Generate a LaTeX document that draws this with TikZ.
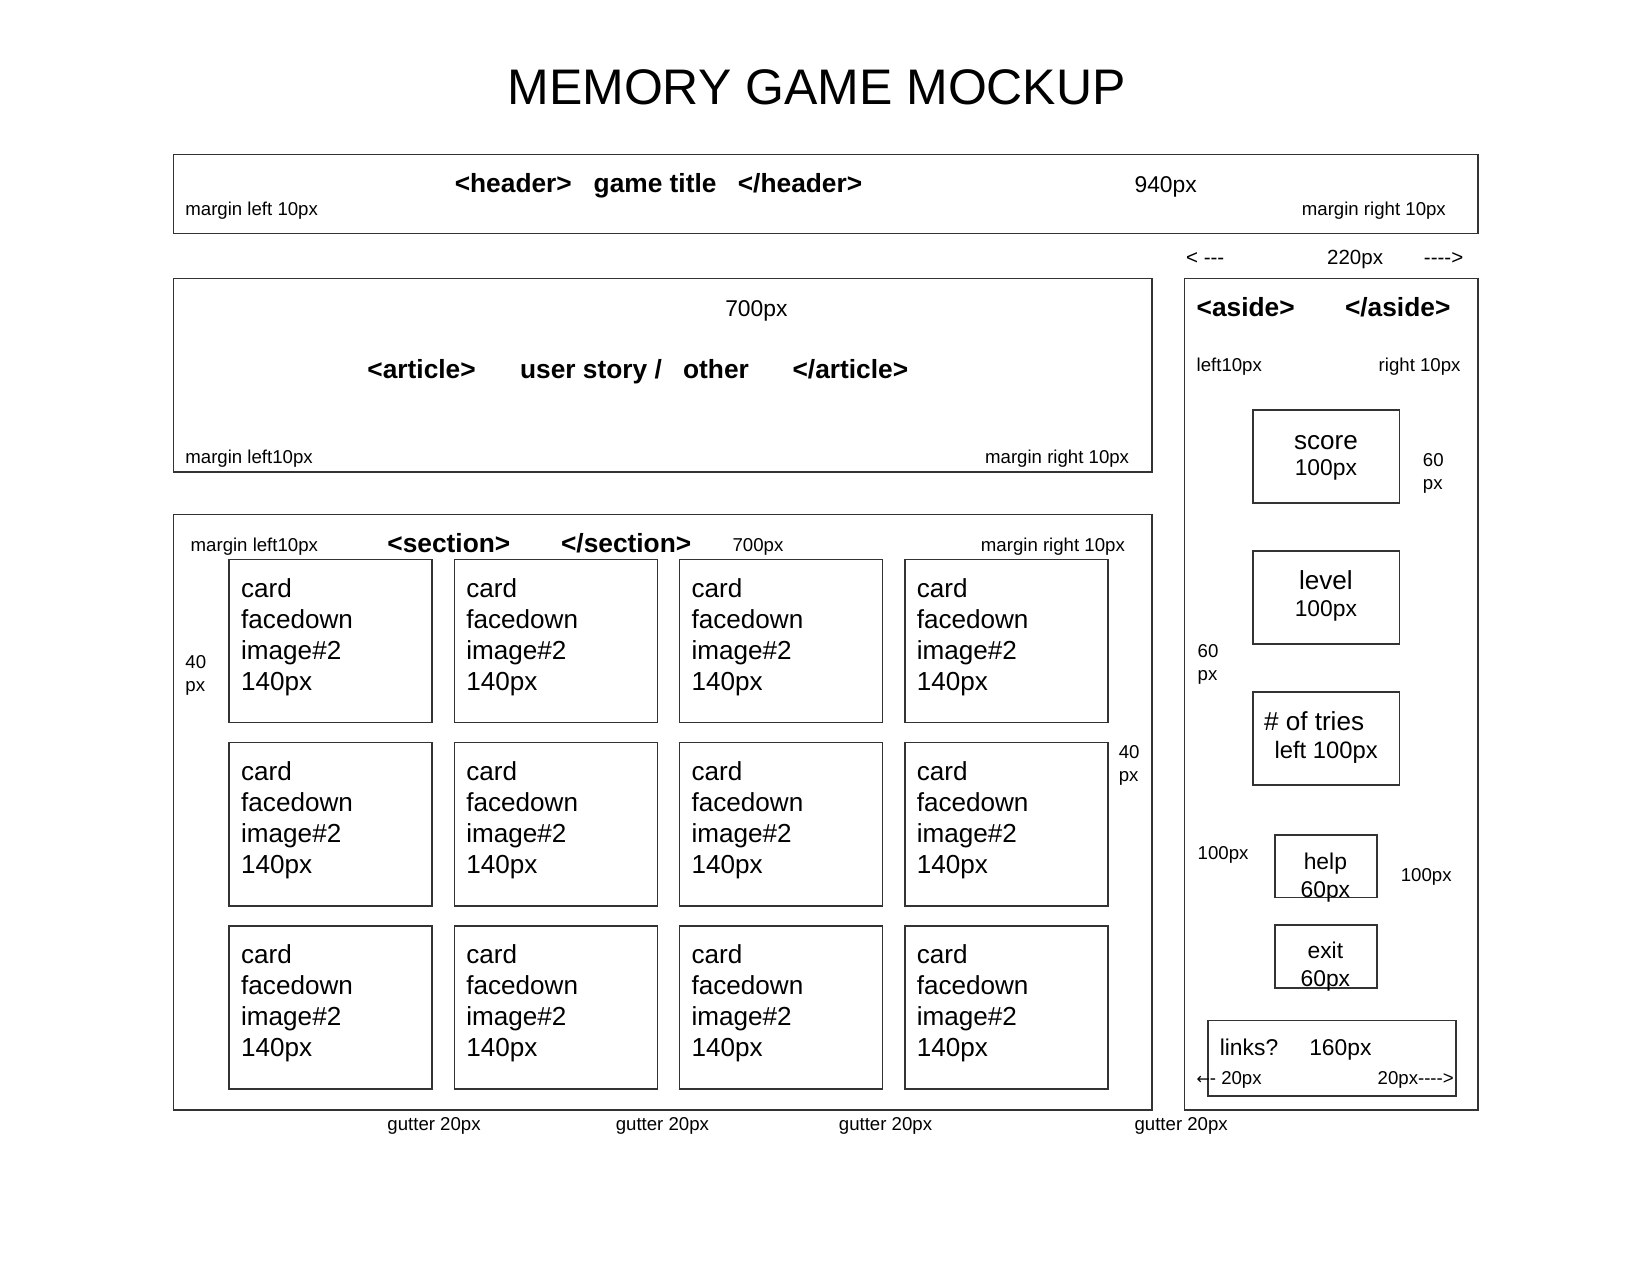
\documentclass[tikz,border=0pt]{standalone}
\usepackage{fontspec}
\setmainfont{Liberation Sans}
\newfontfamily\arrowfont{DejaVu Sans}
\newcommand\mybox[5]{\node[box, minimum width={(#4-#2)*1pt}, minimum height={(#5-#3)*1pt}] (#1) at (#2,#3) {};}
\tikzset{
  box/.style={draw=black!80, line width=1.5pt, inner sep=0pt, anchor=north west},
  small/.style={inner sep=0pt, anchor=base west, font=\fontsize{17.7}{21}\selectfont},
  mid/.style={inner sep=0pt, anchor=base west, font=\fontsize{21.7}{26}\selectfont},
  bld/.style={inner sep=0pt, anchor=base west, font=\fontsize{25}{30}\selectfont\bfseries},
  ctxt/.style={inner sep=0pt, anchor=base west, font=\fontsize{24.8}{29}\selectfont},
  ctr/.style={anchor=base},
}
\begin{document}
\begin{tikzpicture}[x=1pt,y=-1pt]
\fill[white] (0,0) rectangle (1568,1211.4);
\useasboundingbox (0,0) rectangle (1568,1211.4);

% title
\node[inner sep=0pt, anchor=base, font=\fontsize{47.5}{56}\selectfont] (title) at (776,99) {MEMORY GAME MOCKUP};

% header
\mybox{header}{164}{146}{1404}{221}
\node[bld] (h1) at (432,183) {<header>};
\node[bld] (h2) at (564,183) {game title};
\node[bld] (h3) at (701,183) {</header>};
\node[mid] (h4) at (1078,183) {940px};
\node[small] (h5) at (176,205) {margin left 10px};
\node[small] (h6) at (1237,205) {margin right 10px};

% aside width
\node[small, font=\fontsize{19.5}{23}\selectfont] (w1) at (1127,251) {< -{}-{}-};
\node[small, font=\fontsize{19.5}{23}\selectfont] (w2) at (1261,251) {220px};
\node[small, font=\fontsize{19.5}{23}\selectfont] (w3) at (1353,251) {-{}-{}-{}->};

% article
\mybox{article}{164}{264}{1094}{448}
\node[mid] (a0) at (689,301) {700px};
\node[bld] (a1) at (349,360) {<article>};
\node[bld] (a2) at (494,360) {user story /};
\node[bld] (a3) at (649,360) {other};
\node[bld] (a4) at (753,360) {</article>};
\node[small] (a5) at (176,440) {margin left10px};
\node[small] (a6) at (936,440) {margin right 10px};

% section
\mybox{section}{164}{488}{1094}{1054}
\node[small] (s1) at (181,524) {margin left10px};
\node[bld] (s2) at (368,525) {<section>};
\node[bld] (s3) at (533,525) {</section>};
\node[small] (s4) at (696,524) {700px};
\node[small] (s5) at (932,524) {margin right 10px};
\node[small] (s6) at (176,635) {40};
\node[small] (s7) at (176,657) {px};
\node[small] (s8) at (1063,721) {40};
\node[small] (s9) at (1063,743) {px};

\foreach \cx [count=\i] in {217,431,645,859}{
  \foreach \cy [count=\j] in {531,705,879}{
    \mybox{card-\i-\j}{\cx}{\cy}{\cx+193}{\cy+155}
    \foreach \t/\dy [count=\k] in {card/37,facedown/66,image\#2/96,140px/125}{
      \node[ctxt] (card-\i-\j-\k) at (\cx+12,\cy+\dy) {\t};
    }
  }
}

% gutters
\foreach \gx [count=\g] in {368,585,797,1078}{
  \node[small] (gut-\g) at (\gx,1074) {gutter 20px};
}

% aside
\mybox{aside}{1125}{264}{1404}{1054}
\node[bld] (as1) at (1137,301) {<aside>};
\node[bld] (as2) at (1278,301) {</aside>};
\node[small] (as3) at (1137,353) {left10px};
\node[small] (as4) at (1310,353) {right 10px};

\mybox{score}{1190}{389}{1329}{477}
\node[ctxt, ctr] (sc1) at (1260,427) {score};
\node[mid, ctr] (sc2) at (1260,452) {100px};
\node[small] (sc3) at (1352,443) {60};
\node[small] (sc4) at (1352,465) {px};

\mybox{level}{1190}{523}{1329}{611}
\node[ctxt, ctr] (lv1) at (1260,560) {level};
\node[mid, ctr] (lv2) at (1260,586) {100px};
\node[small] (lv3) at (1138,625) {60};
\node[small] (lv4) at (1138,647) {px};

\mybox{tries}{1190}{657}{1329}{745}
\node[ctxt] (tr1) at (1201,694) {\# of tries};
\node[ctxt, font=\fontsize{22.6}{27}\selectfont] (tr2) at (1211,721) {left 100px};

\node[small] (hp0) at (1138,817) {100px};
\node[small] (hp00) at (1331,838) {100px};
\mybox{help}{1211}{793}{1308}{852}
\node[mid, ctr] (hp1) at (1259.5,826) {help};
\node[mid, ctr] (hp2) at (1259.5,852.5) {60px};

\mybox{exit}{1211}{878}{1308}{938}
\node[mid, ctr] (ex1) at (1259.5,911) {exit};
\node[mid, ctr] (ex2) at (1259.5,937) {60px};

\mybox{links}{1147}{969}{1383}{1041}
\node[mid] (ln1) at (1159,1003) {links?};
\node[mid] (ln2) at (1244,1003) {160px};
\node[small] (ln3) at (1137,1031) {{\arrowfont\fontsize{15}{18}\selectfont ←}- 20px};
\node[small] (ln4) at (1309,1031) {20px-{}-{}-{}->};
\end{tikzpicture}
\end{document}
